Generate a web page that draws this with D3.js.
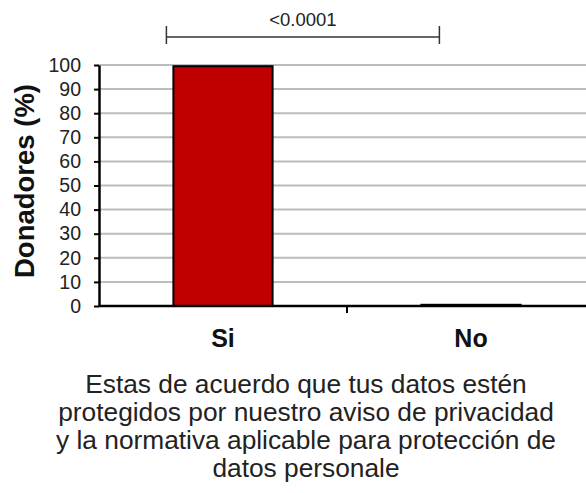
<!DOCTYPE html>
<html><head><meta charset="utf-8">
<script src="https://cdn.jsdelivr.net/npm/d3@7"></script>
<style>body{margin:0;background:#fff}svg{display:block}text{font-family:Arial,"Liberation Sans",sans-serif}</style>
</head><body>
<svg id="chart" width="586" height="493"></svg>
<script>
const categories = ["Si", "No"];
const values = [99.5, 0.5];
const yTicks = [0,10,20,30,40,50,60,70,80,90,100];
const yTitle = "Donadores (%)";
const xTitleLines = ["Estas de acuerdo que tus datos estén","protegidos por nuestro aviso de privacidad","y la normativa aplicable para protección de","datos personale"];
const pValue = "<0.0001";

const svg = d3.select("#chart");
const pLeft = 99, pRight = 595, pTop = 65, pBottom = 306;
const x = d3.scaleBand().domain(categories).range([pLeft, pRight]).paddingInner(0.6).paddingOuter(0.3);
const y = d3.scaleLinear().domain([0,100]).range([pBottom, pTop]);

// gridlines
svg.append("g").selectAll("line").data(yTicks.filter(d=>d>0)).join("line")
  .attr("x1", pLeft).attr("x2", 586).attr("y1", d=>y(d)).attr("y2", d=>y(d))
  .attr("stroke", "#bdbdbd").attr("stroke-width", 2);

// bars
svg.append("g").selectAll("rect").data(categories).join("rect")
  .attr("x", d=>x(d)).attr("width", x.bandwidth())
  .attr("y", (d,i)=>y(values[i])).attr("height", (d,i)=>y(0)-y(values[i]))
  .attr("fill", "#c00000").attr("stroke", "#000").attr("stroke-width", 2);

// y axis
const ya = svg.append("g").attr("transform", `translate(${pLeft},0)`)
  .call(d3.axisLeft(y).tickValues(yTicks).tickSize(5).tickPadding(13).tickSizeOuter(0));
ya.select(".domain").attr("stroke", "#000").attr("stroke-width", 2.5);
ya.selectAll(".tick line").attr("stroke", "#000").attr("stroke-width", 2);
ya.selectAll(".tick text").attr("font-size", 19.5).attr("fill", "#222").style("font-family","Arial, 'Liberation Sans', sans-serif");

// x axis line
svg.append("line").attr("x1", pLeft).attr("x2", 586).attr("y1", y(0)).attr("y2", y(0))
  .attr("stroke", "#000").attr("stroke-width", 2.5);
// middle tick between categories
const mid = (x(categories[0]) + x.bandwidth()/2 + x(categories[1]) + x.bandwidth()/2)/2;
svg.append("line").attr("x1", mid).attr("x2", mid).attr("y1", y(0)).attr("y2", y(0)+7)
  .attr("stroke", "#000").attr("stroke-width", 2);

// category labels
svg.append("g").selectAll("text").data(categories).join("text")
  .attr("x", d=>x(d)+x.bandwidth()/2).attr("y", 347)
  .attr("text-anchor", "middle").attr("font-size", 25).attr("font-weight", "bold")
  .attr("fill", "#111").text(d=>d);

// y title
svg.append("text").attr("transform", "translate(34,181) rotate(-90)")
  .attr("text-anchor", "middle").attr("font-size", 27.5).attr("font-weight", "bold")
  .attr("fill", "#111").text(yTitle);

// x title
svg.append("g").selectAll("text").data(xTitleLines).join("text")
  .attr("x", 306).attr("y", (d,i)=>393 + i*28)
  .attr("text-anchor", "middle").attr("font-size", 26.3).attr("fill", "#222").text(d=>d);

// significance bracket
const bx1 = x(categories[0]) - 7, bx2 = x(categories[1]) + 18, by = 37;
const br = svg.append("g").attr("stroke", "#333").attr("stroke-width", 1.5).attr("fill", "none");
br.append("line").attr("x1", bx1).attr("x2", bx2).attr("y1", by).attr("y2", by);
br.append("line").attr("x1", bx1).attr("x2", bx1).attr("y1", by-11).attr("y2", by+7);
br.append("line").attr("x1", bx2).attr("x2", bx2).attr("y1", by-11).attr("y2", by+7);
svg.append("text").attr("x", (bx1+bx2)/2).attr("y", 26).attr("text-anchor", "middle")
  .attr("font-size", 18.5).attr("fill", "#222").text(pValue);
</script>
</body></html>
